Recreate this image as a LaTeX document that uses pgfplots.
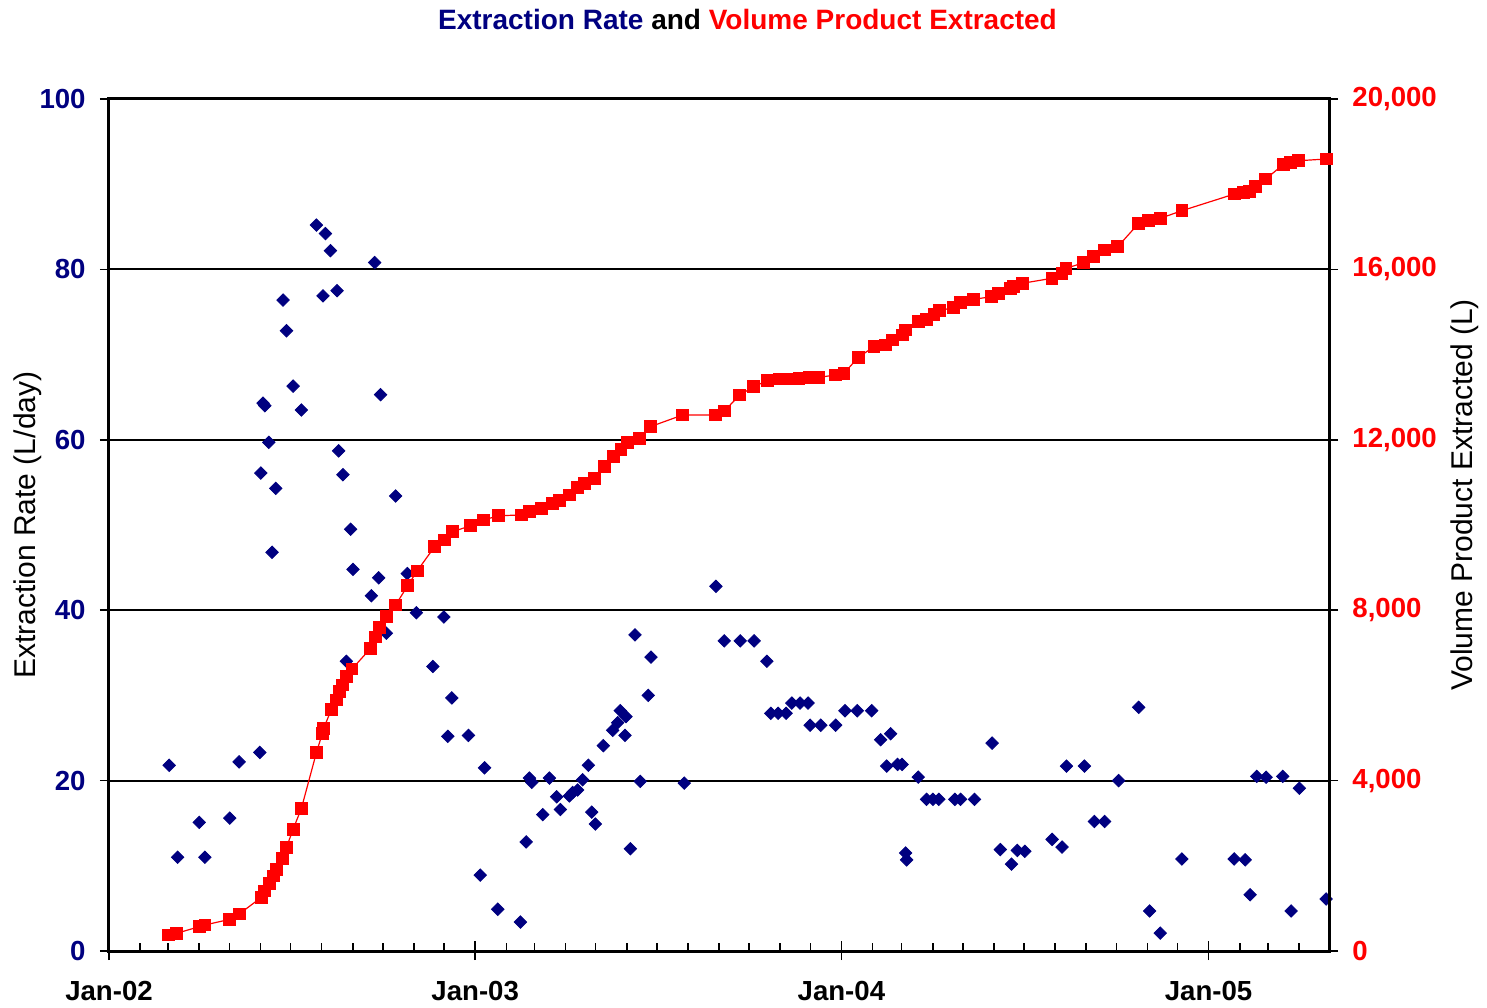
\documentclass[border=0pt]{standalone}
\usepackage{fontspec}
\setmainfont{Liberation Sans}
\usepackage{pgfplots}
\pgfplotsset{compat=1.18}
\definecolor{navy}{RGB}{0,0,128}
\newcommand{\tickfont}{\bfseries\fontsize{13.8}{16}\selectfont}
\begin{document}
\begin{tikzpicture}
\path[use as bounding box] (-54.5pt,-28pt) rectangle (689pt,475.5pt);
\begin{axis}[
  name=main, scale only axis, width=610pt, height=426pt,
  at={(0pt,0pt)}, anchor=south west,
  xmin=0, xmax=1216, ymin=0, ymax=100,
  axis line style={line width=1.5pt},
  ytick={0,20,...,100}, ytick pos=left, xtick pos=bottom,
  tick align=outside, major tick length=4.5pt,
  ytick style={line width=0.8pt, black},
  xtick={0,365,730,1096}, xticklabels={Jan-02,Jan-03,Jan-04,Jan-05},
  xtick style={draw=none},
  ymajorgrids, grid style={black, line width=1pt},
  /pgf/number format/assume math mode=true,
  yticklabel style={font=\tickfont, text=navy, inner sep=0pt, anchor=east, xshift=-7pt},
  xticklabel style={font=\tickfont, text=black, inner sep=0pt, anchor=north, yshift=-10.5pt},
  clip=false,
]
\addplot[only marks, color=navy, mark=square*, mark size=2.2pt, mark options={rotate=45, fill=navy, draw=navy}] coordinates {
(60,21.8)(68.4,11.0)(89.9,15.1)(95.6,11.0)(120.4,15.6)(129.7,22.2)(150.3,23.3)(151.3,56.1)(153.6,64.3)(155.3,64.0)(159.3,59.7)(162.5,46.8)(166.2,54.3)(173.5,76.4)(176.9,72.8)(183.5,66.3)(191.8,63.5)(206.7,85.2)(213.3,76.9)(215.7,84.2)(220.7,82.2)(227.3,77.5)(228.9,58.7)(233.2,55.9)(236.6,34.0)(240.9,49.5)(243.2,44.8)(261.5,41.7)(264.8,80.8)(268.8,43.8)(270.7,65.3)(276.4,37.3)(285.7,53.4)(297.3,44.3)(306.3,39.7)(322.8,33.4)(333.8,39.2)(337.7,25.2)(341.7,29.7)(358.3,25.3)(370.0,8.9)(374.3,21.5)(387.5,4.9)(410.1,3.4)(415.8,12.8)(419.1,20.3)(421.4,19.8)(432.3,16.0)(439.0,20.3)(446.2,18.1)(449.9,16.6)(458.9,18.2)(462.2,18.6)(467.1,18.9)(472.1,20.1)(477.8,21.8)(481.1,16.3)(484.8,14.9)(492.7,24.1)(502.0,25.9)(507.0,26.8)(509.6,28.2)(514.3,25.3)(515.3,27.5)(519.6,12.0)(524.3,37.1)(529.5,19.9)(537.5,30.0)(540.2,34.5)(573.4,19.7)(604.9,42.8)(613.2,36.4)(629.1,36.4)(643.0,36.4)(655.7,34.0)(659.6,27.9)(666.9,27.9)(674.9,27.9)(680.6,29.1)(688.8,29.1)(696.8,29.1)(698.8,26.5)(709.4,26.5)(724.3,26.5)(733.6,28.2)(745.8,28.2)(760.2,28.2)(769.1,24.8)(775.1,21.7)(779.1,25.5)(786.0,21.9)(790.5,21.9)(794.0,11.5)(795.0,10.7)(806.6,20.4)(814.9,17.8)(821.2,17.8)(827.1,17.8)(843.1,17.8)(848.8,17.8)(862.7,17.8)(880.2,24.4)(888.4,11.9)(899.5,10.2)(905.3,11.8)(912.8,11.7)(940.0,13.1)(949.9,12.2)(954.3,21.7)(972.2,21.7)(982.1,15.2)(992.4,15.2)(1006.3,20.0)(1026.3,28.6)(1037.2,4.7)(1047.8,2.1)(1069.3,10.8)(1121.5,10.8)(1132.4,10.7)(1137.4,6.6)(1144.0,20.5)(1153.3,20.4)(1169.9,20.5)(1178.2,4.7)(1186.5,19.1)(1213.1,6.1)
};
\pgfplotsinvokeforeach{31,59,90,120,151,181,212,243,273,304,334,396,424,455,485,516,546,577,608,638,669,699,761,790,821,851,882,912,943,974,1004,1035,1065,1127,1155,1186}{
  \draw[line width=0.8pt] (axis cs:#1,0) -- ++(0,4pt);
}
\pgfplotsinvokeforeach{0,365,730,1096}{
  \draw[line width=0.8pt] (axis cs:#1,0) ++(0,-4.5pt) -- ++(0,9.5pt);
}
\end{axis}
\begin{axis}[
  scale only axis, width=610pt, height=426pt,
  at={(0pt,0pt)}, anchor=south west,
  xmin=0, xmax=1216, ymin=0, ymax=20000,
  axis x line=none, axis y line*=right,
  axis line style={line width=1.5pt},
  ytick={0,4000,...,20000}, tick align=outside, major tick length=4.5pt,
  ytick style={line width=0.8pt, black},
  scaled y ticks=false,
  /pgf/number format/assume math mode=true,
  yticklabel style={font=\tickfont, text=red, /pgf/number format/fixed, /pgf/number format/1000 sep={,}, anchor=west, inner sep=0pt, xshift=7pt},
  clip=false,
]
\addplot[red, line width=0.6pt, mark=square*, mark size=2.9pt, mark options={fill=red, draw=red}] coordinates {
(59.7,376)(67.4,416)(89.9,570)(95.6,610)(120.4,744)(129.7,868)(152.0,1260)(155.3,1408)(159.6,1589)(164.2,1760)(166.9,1918)(172.9,2176)(176.9,2434)(183.5,2857)(191.8,3350)(206.7,4655)(212.7,5110)(214.0,5228)(221.7,5674)(226.7,5892)(229.9,6087)(232.6,6244)(236.6,6439)(242.2,6620)(260.8,7105)(265.8,7371)(269.8,7594)(276.4,7857)(285.7,8122)(297.6,8572)(307.1,8920)(324.5,9490)(334.5,9648)(342.7,9843)(360.3,9983)(373.3,10117)(388.5,10218)(410.8,10235)(419.1,10312)(430.7,10392)(442.3,10509)(448.9,10570)(458.9,10704)(467.1,10885)(473.8,10979)(483.7,11096)(493.7,11368)(502.6,11603)(510.3,11777)(516.9,11932)(528.5,12035)(539.5,12307)(571.7,12582)(604.9,12582)(613.2,12676)(628.8,13051)(642.3,13246)(656.3,13387)(667.9,13427)(677.9,13427)(687.8,13443)(697.8,13467)(707.7,13467)(724.3,13521)(732.6,13561)(746.8,13936)(762.5,14185)(774.1,14225)(780.7,14343)(790.6,14460)(794.0,14577)(806.6,14772)(814.5,14828)(822.2,14946)(827.9,15030)(842.1,15110)(848.8,15218)(862.0,15298)(879.6,15359)(886.9,15438)(898.5,15556)(901.8,15593)(910.1,15673)(939.9,15791)(949.9,15908)(953.9,16025)(971.5,16157)(981.5,16298)(992.4,16455)(1005.4,16532)(1026.3,17082)(1036.2,17143)(1047.8,17199)(1069.4,17378)(1121.8,17770)(1130.8,17800)(1136.4,17824)(1142.4,17941)(1153.0,18122)(1170.6,18467)(1177.3,18504)(1185.5,18551)(1213.1,18591)
};
\end{axis}
\node[anchor=base, font=\bfseries\fontsize{14}{16}\selectfont] at (319.25pt,460.5pt)
  {\textcolor{navy}{Extraction Rate} and \textcolor{red}{Volume Product Extracted}};
\node[rotate=90, font=\fontsize{15}{18}\selectfont] at (-40.5pt,213pt) {Extraction Rate (L/day)};
\node[rotate=90, font=\fontsize{15}{18}\selectfont] at (678pt,228pt) {Volume Product Extracted (L)};
\end{tikzpicture}
\end{document}
